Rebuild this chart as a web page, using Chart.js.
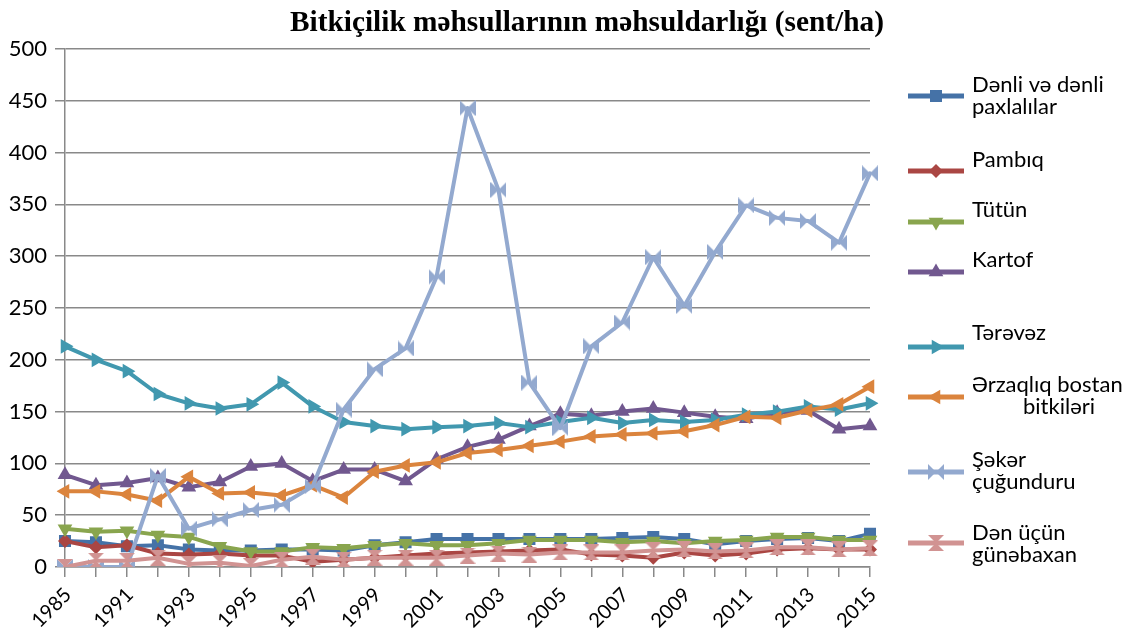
<!DOCTYPE html>
<html><head><meta charset="utf-8">
<script src="https://cdn.jsdelivr.net/npm/chart.js@4/dist/chart.umd.min.js"></script>
<style>html,body{margin:0;padding:0;background:#fff}#wrap{width:1134px;height:638px;position:relative}</style>
</head><body><div id="wrap"><canvas id="c" width="1134" height="638"></canvas></div>
<script>
// ---- data ----
const years = ['1985','1990','1991','1992','1993','1994','1995','1996','1997','1998','1999','2000','2001','2002','2003','2004','2005','2006','2007','2008','2009','2010','2011','2012','2013','2014','2015'];
const denli     = [25,24,20,21,17,16,16,17,17,16,21,24,27,27,27,27,27,27,28,29,27,22,25,27,28,25,32];
const pambiq    = [25,19,21,13,12,13,11,11,5,7,9,11,13,14,15,16,17,12,11,9,14,11,13,17,18,17,17];
const tutun     = [37,34,35,31,29,20,15,15,19,18,21,23,21,21,23,26,26,26,24,25,23,25,26,29,29,26,26];
const kartof    = [89,79,81,86,77,82,97,100,83,94,94,83,104,116,123,136,148,146,150,153,149,145,143,149,151,133,136];
const terevez   = [213,200,189,167,158,153,157,178,155,140,136,133,135,136,139,135,140,144,139,142,140,142,147,150,155,152,158];
const erzaq     = [73,73,70,64,87,71,72,69,79,67,92,98,101,110,113,117,121,126,128,129,131,137,145,144,151,157,174];
const seker     = [0,0,0,88,37,46,55,60,78,152,191,211,280,443,364,178,134,213,236,299,252,304,349,337,334,313,380];
const gunebaxan = [0,6,6,9,3,4,1,7,10,7,9,9,9,11,13,12,14,14,14,16,17,15,16,19,19,17,18];
const seriesNames = ['Dənli və dənli paxlalılar','Pambıq','Tütün','Kartof','Tərəvəz','Ərzaqlıq bostan bitkiləri','Şəkər çuğunduru','Dən üçün günəbaxan'];
const yTicks = [0,50,100,150,200,250,300,350,400,450,500];
const titleText = 'Bitkiçilik məhsullarının məhsuldarlığı (sent/ha)';

// ---- styles ----
const colors = ['#4572A7','#AA4643','#89A54E','#71588F','#4198AF','#DB843D','#93A9CF','#D19392'];

function makeBowtie(color, horizontal) {
  const s = 16;
  const c = document.createElement('canvas');
  c.width = s; c.height = s;
  const g = c.getContext('2d');
  g.fillStyle = color;
  g.beginPath();
  if (horizontal) {
    g.moveTo(0,0); g.lineTo(s/2,s/2); g.lineTo(0,s); g.closePath();
    g.moveTo(s,0); g.lineTo(s/2,s/2); g.lineTo(s,s); g.closePath();
  } else {
    g.moveTo(0,0); g.lineTo(s,0); g.lineTo(s/2,s/2); g.closePath();
    g.moveTo(0,s); g.lineTo(s,s); g.lineTo(s/2,s/2); g.closePath();
  }
  g.fill();
  return c;
}

const markerDefs = [
  {pointStyle:'rect', radius:8.5, rotation:0},
  {pointStyle:'rectRot', radius:7, rotation:0},
  {pointStyle:'triangle', radius:8.5, rotation:180},
  {pointStyle:'triangle', radius:8.5, rotation:0},
  {pointStyle:'triangle', radius:8.5, rotation:90},
  {pointStyle:'triangle', radius:8.5, rotation:-90},
  {pointStyle:makeBowtie(colors[6], true), radius:8, rotation:0},
  {pointStyle:makeBowtie(colors[7], false), radius:8, rotation:0}
];
const seriesData = [denli,pambiq,tutun,kartof,terevez,erzaq,seker,gunebaxan];

const datasets = seriesData.map((d,i)=>({
  label: seriesNames[i],
  data: d,
  borderColor: colors[i],
  backgroundColor: colors[i],
  borderWidth: 4,
  borderJoinStyle: 'round',
  borderCapStyle: 'round',
  pointStyle: markerDefs[i].pointStyle,
  pointRadius: markerDefs[i].radius,
  pointRotation: markerDefs[i].rotation,
  pointBorderWidth: 0,
  pointBackgroundColor: colors[i],
  pointHoverRadius: markerDefs[i].radius,
  tension: 0,
  order: 7 - i
}));

// legend layout (positions)
const legendLayout = [
  {lineY: 96,  lines: [['Dənli və dənli',972,92],['paxlalılar',972,114]]},
  {lineY: 171, lines: [['Pambıq',972,167]]},
  {lineY: 222, lines: [['Tütün',972,217]]},
  {lineY: 272, lines: [['Kartof',972,267]]},
  {lineY: 347, lines: [['Tərəvəz',972,340]]},
  {lineY: 397, lines: [['Ərzaqlıq bostan',972,392],['bitkiləri',1023,414]]},
  {lineY: 472, lines: [['Şəkər',972,467],['çuğunduru',972,489]]},
  {lineY: 543, lines: [['Dən üçün',972,540],['günəbaxan',972,562]]}
];

const customPlugin = {
  id: 'custom',
  afterDraw(chart) {
    const ctx = chart.ctx;
    // title
    ctx.save();
    ctx.font = 'bold 29px "Liberation Serif"';
    ctx.fillStyle = '#000';
    ctx.textBaseline = 'alphabetic';
    const w = ctx.measureText(titleText).width;
    const target = 594;
    ctx.translate(587, 31);
    ctx.scale(target / w, 1);
    ctx.textAlign = 'center';
    ctx.fillText(titleText, 0, 0);
    ctx.restore();
    // legend
    chart.data.datasets.forEach((ds, i) => {
      const L = legendLayout[i];
      ctx.save();
      ctx.strokeStyle = ds.borderColor;
      ctx.lineWidth = 5;
      ctx.beginPath();
      ctx.moveTo(908, L.lineY);
      ctx.lineTo(964, L.lineY);
      ctx.stroke();
      ctx.fillStyle = ds.borderColor;
      ctx.strokeStyle = ds.borderColor;
      Chart.helpers.drawPoint(ctx, {pointStyle: ds.pointStyle, rotation: ds.pointRotation, radius: ds.pointRadius, borderWidth: 0}, 936, L.lineY);
      ctx.fillStyle = '#000';
      ctx.font = '22px Lato';
      ctx.textAlign = 'left';
      ctx.textBaseline = 'alphabetic';
      L.lines.forEach(([t,x,y]) => ctx.fillText(t, x, y));
      ctx.restore();
    });
  }
};

const gridColor = '#898989';
new Chart(document.getElementById('c'), {
  type: 'line',
  data: {labels: years, datasets},
  options: {
    responsive: false,
    animation: false,
    events: [],
    layout: {padding: {top: 49, right: 264, left: 0, bottom: 0}},
    plugins: {legend: {display: false}, title: {display: false}, tooltip: {enabled: false}},
    scales: {
      x: {
        type: 'category',
        offset: false,
        grid: {display: true, drawOnChartArea: false, drawTicks: true, tickLength: 10, color: gridColor, lineWidth: 1.5},
        border: {display: true, color: gridColor, width: 1.5},
        ticks: {
          autoSkip: false, minRotation: 45, maxRotation: 45, padding: 6, labelOffset: 3,
          color: '#000', font: {family: 'Lato', size: 20},
          callback: function(v, i) { return i % 2 === 0 ? years[i] : ''; }
        },
        afterFit(scale) { scale.height = 71; scale.paddingLeft = 0; scale.paddingRight = 0; }
      },
      y: {
        min: 0, max: 500,
        grid: {color: gridColor, tickLength: 10, lineWidth: 1.5},
        border: {display: true, color: gridColor, width: 1.5},
        ticks: {
          stepSize: 50, padding: 8, color: '#000', font: {family: 'Lato', size: 22},
          callback: function(v) { return yTicks.includes(v) ? String(v) : ''; }
        },
        afterFit(scale) { scale.width = 65; scale.paddingTop = 0; scale.paddingBottom = 0; }
      }
    }
  },
  plugins: [customPlugin]
});
</script>
</body></html>
